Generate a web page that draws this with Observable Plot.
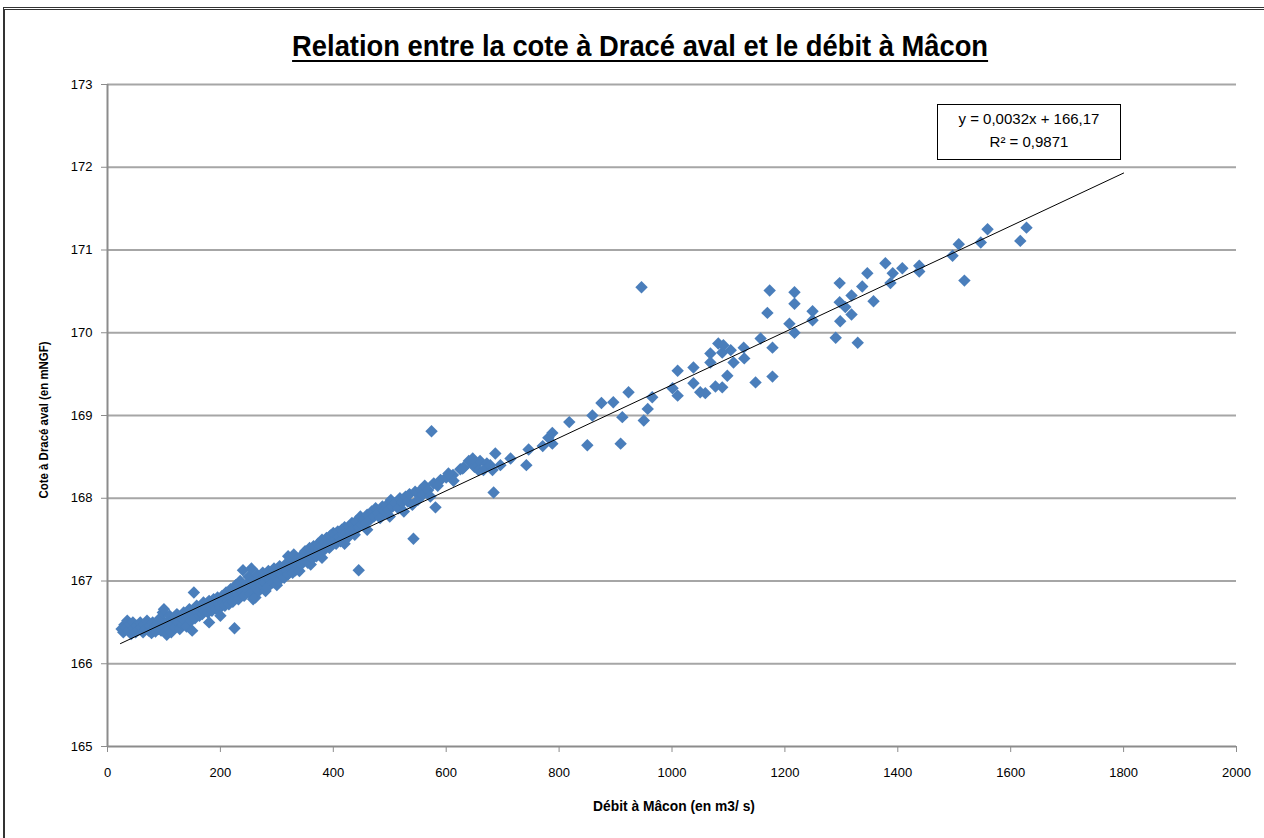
<!DOCTYPE html>
<html><head><meta charset="utf-8">
<script src="https://cdn.jsdelivr.net/npm/d3@7"></script>
<script src="https://cdn.jsdelivr.net/npm/@observablehq/plot@0.6"></script>
<style>
body{margin:0;background:#fff;font-family:"Liberation Sans",Arial,sans-serif;}
#wrap{position:relative;width:1264px;height:838px;overflow:hidden;background:#fff;}
#frame{position:absolute;left:3px;top:7px;width:1400px;height:1000px;border-left:2px solid #333;border-top:3px double #333;}
#title{position:absolute;left:8px;top:30px;width:1264px;text-align:center;font-weight:bold;font-size:29px;color:#000;}
#title span{display:inline-block;text-decoration:underline;text-decoration-thickness:2px;text-underline-offset:4px;transform-origin:50% 50%;}
#chart{position:absolute;left:0;top:0;}
#eq{position:absolute;left:937px;top:104px;width:182px;height:52px;border:1px solid #000;background:#fff;font-size:15px;text-align:center;line-height:23px;padding-top:2px;color:#000;}
#ylab{position:absolute;left:43px;top:420px;transform:translate(-50%,-50%) rotate(-90deg) scaleX(0.88);white-space:nowrap;font-weight:bold;font-size:13px;}
#xlab{position:absolute;left:674px;top:805px;transform:translate(-50%,-50%) scaleX(0.92);white-space:nowrap;font-weight:bold;font-size:15px;}
</style></head>
<body>
<div id="wrap">
<div id="frame"></div>
<div id="chart"></div>
<div id="title"><span id="titletext">Relation entre la cote à Dracé aval et le débit à Mâcon</span></div>
<div id="eq">y = 0,0032x + 166,17<br>R² = 0,9871</div>
<div id="ylab">Cote à Dracé aval (en mNGF)</div>
<div id="xlab">Débit à Mâcon (en m3/ s)</div>
</div>
<script>
// Axis ticks
const xTicks = [0,200,400,600,800,1000,1200,1400,1600,1800,2000];
const yTicks = [165,166,167,168,169,170,171,172,173];

// Trend line (Excel linear trendline): slope, intercept, extent
const trendSlope = 0.0032;
const trendIntercept = 166.17;
const trendExtent = [23, 1800];

// Dense band of low flows [débit, cote]
const bandLow = [
[25,166.42],[28,166.38],[30,166.47],[33,166.44],[35,166.52],[37,166.40],[40,166.48],[42,166.36],[45,166.50],[47,166.43],
[50,166.38],[52,166.46],[55,166.41],[58,166.50],[60,166.44],[63,166.38],[65,166.47],[68,166.42],[70,166.52],[73,166.40],
[75,166.46],[78,166.37],[80,166.50],[83,166.43],[85,166.39],[88,166.47],[90,166.42],[93,166.55],[95,166.40],[98,166.62],
[100,166.45],[100,166.66],[102,166.38],[105,166.50],[105,166.35],[108,166.42],[110,166.58],[113,166.38],[115,166.47],[118,166.55],[120,166.44],[123,166.60],
[125,166.50],[128,166.42],[130,166.56],[133,166.47],[135,166.62],[138,166.52],[140,166.45],[143,166.58],[145,166.66],[148,166.52],
[150,166.60],[150,166.40],[153,166.86],[155,166.55],[158,166.70],[160,166.62],[163,166.58],[165,166.68],[168,166.60],[170,166.74],[172,166.64],
[175,166.70],[178,166.62],[180,166.76],[180,166.50],[183,166.68],[185,166.64],[188,166.78],[190,166.70],[193,166.66],[195,166.80],[198,166.72],
[200,166.68],[200,166.58],[203,166.82],[205,166.74],[208,166.70],[210,166.86],[213,166.76],[215,166.72],[218,166.90],[220,166.80],[222,166.75]
];
const bandMid = [
[225,166.43],[227,166.95],[230,166.84],[232,166.78],[235,167.00],[237,166.88],[240,167.13],[242,166.82],[245,166.95],[248,166.90],
[250,167.05],[253,166.85],[255,166.98],[255,167.15],[258,166.78],[260,167.02],[262,166.80],[263,166.92],[265,167.08],[268,166.88],[270,167.00],[273,166.95],
[275,167.10],[278,166.98],[280,167.05],[280,166.88],[283,166.92],[285,167.12],[288,167.02],[290,167.08],[293,166.98],[295,167.15],[298,167.05],
[300,167.10],[300,166.95],[303,167.00],[305,167.18],[308,167.08],[310,167.14],[313,167.04],[315,167.20],[318,167.12],[320,167.08],[320,167.30],[323,167.22],
[325,167.15],[328,167.10],[330,167.32],[333,167.13],[335,167.25],[338,167.18],[340,167.28],[340,167.12],[343,167.20],[345,167.30],[348,167.24],
[350,167.36],[353,167.28],[355,167.22],[358,167.40],[360,167.33],[360,167.20],[363,167.27],[365,167.42],[368,167.35],[370,167.30],[373,167.45],
[375,167.38],[378,167.42],[380,167.50],[380,167.28],[383,167.37],[385,167.46],[388,167.52],[390,167.44],[393,167.40],[395,167.55],[398,167.48]
];
const bandHigh = [
[400,167.58],[403,167.50],[405,167.45],[408,167.60],[410,167.53],[413,167.48],[415,167.62],[418,167.56],[420,167.65],[420,167.45],[423,167.58],
[425,167.52],[428,167.66],[430,167.60],[433,167.70],[435,167.62],[438,167.56],[440,167.72],[445,167.65],[448,167.78],[450,167.68],
[455,167.75],[458,167.70],[460,167.80],[460,167.62],[465,167.74],[468,167.84],[472,167.78],[475,167.88],[480,167.82],[483,167.76],[487,167.90],
[490,167.85],[495,167.92],[498,167.86],[500,167.78],[502,167.98],[505,167.90],[510,167.94],[515,167.88],[518,168.00],[522,167.95],[525,167.84],
[528,168.02],[532,167.96],[535,168.05],[540,167.92],[545,168.08],[550,167.98],[555,168.10],[558,168.04],[562,168.15],[568,168.10],
[572,168.02],[578,168.18],[590,168.22],[600,168.25],[612,168.28],[625,168.35],[640,168.45],[650,168.38],[660,168.45],[672,168.42]
];
// Scattered points (higher flows and outliers)
const scatter = [
[445,167.13],[542,167.51],[574,168.81],[581,167.89],[585,168.15],[604,168.30],[613,168.21],[629,168.36],[631,168.37],[647,168.48],
[657,168.34],[666,168.34],[678,168.40],[682,168.34],[684,168.07],[687,168.54],[696,168.40],[714,168.48],[742,168.40],[746,168.59],
[771,168.63],[781,168.73],[788,168.79],[788,168.66],[818,168.92],[850,168.64],[859,169.00],[875,169.15],[896,169.16],[909,168.66],
[912,168.98],[923,169.28],[946,170.55],[950,168.94],[957,169.08],[965,169.22],[1001,169.33],[1010,169.54],[1010,169.24],[1038,169.58],
[1038,169.39],[1050,169.28],[1059,169.27],[1068,169.75],[1068,169.64],[1077,169.35],[1082,169.87],[1089,169.76],[1089,169.34],[1091,169.85],
[1098,169.48],[1104,169.79],[1109,169.64],[1127,169.82],[1128,169.69],[1148,169.40],[1157,169.93],[1169,170.24],[1173,170.51],[1178,169.82],
[1178,169.47],[1208,170.11],[1217,170.00],[1217,170.49],[1217,170.35],[1249,170.26],[1249,170.15],[1290,169.94],[1297,170.60],[1297,170.37],
[1298,170.14],[1307,170.31],[1318,170.45],[1318,170.22],[1329,169.88],[1337,170.56],[1346,170.72],[1357,170.38],[1378,170.84],[1387,170.60],
[1391,170.72],[1408,170.78],[1438,170.81],[1438,170.74],[1497,170.93],[1508,171.07],[1518,170.63],[1547,171.09],[1559,171.25],[1617,171.11],
[1628,171.27]
];

const points = [...bandLow, ...bandMid, ...bandHigh, ...scatter].map(([debit, cote]) => ({debit, cote}));
const trend = trendExtent.map(x => ({x, y: trendIntercept + trendSlope * x}));

const chart = Plot.plot({
  width: 1264, height: 838,
  marginLeft: 107, marginRight: 28, marginTop: 84, marginBottom: 92,
  x: {domain: [0, 2000], label: null},
  y: {domain: [165, 173], label: null},
  style: {fontFamily: "'Liberation Sans', Arial, sans-serif", fontSize: "13px", color: "#000", background: "transparent"},
  marks: [
    Plot.gridY(yTicks.slice(1), {stroke: "#a6a6a6", strokeOpacity: 1, strokeWidth: 2}),
    Plot.axisY(yTicks, {tickSize: 6, tickPadding: 9, stroke: "#8c8c8c", fill: "#000", tickFormat: d => String(d), label: null}),
    Plot.axisX(xTicks, {tickSize: 6, tickPadding: 15, stroke: "#8c8c8c", fill: "#000", tickFormat: d => String(d), label: null}),
    Plot.ruleX([0], {stroke: "#8c8c8c", strokeWidth: 2}),
    Plot.ruleY([165], {stroke: "#8c8c8c", strokeWidth: 2}),
    Plot.dot(points, {x: "debit", y: "cote", symbol: "diamond2", r: 5.6, fill: "#4a7ebb", stroke: "none"}),
    Plot.line(trend, {x: "x", y: "y", stroke: "#000", strokeWidth: 1})
  ]
});
document.getElementById("chart").appendChild(chart);

// fit title to the reference's width (condensed face)
const t = document.getElementById("titletext");
const w = t.getBoundingClientRect().width;
t.style.transform = `scaleX(${696 / w})`;
</script>
</body></html>
